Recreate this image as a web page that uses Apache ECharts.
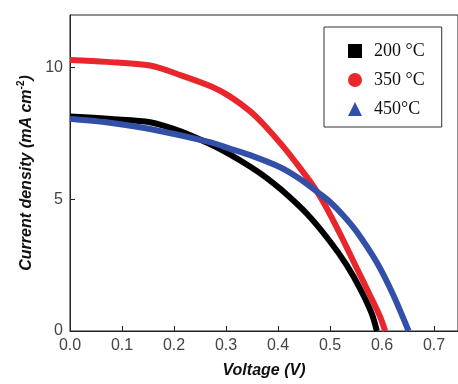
<!DOCTYPE html>
<html>
<head>
<meta charset="utf-8">
<script src="https://cdn.jsdelivr.net/npm/echarts@6/dist/echarts.min.js"></script>
<style>
  html, body { margin: 0; padding: 0; background: #fff; }
  #chart { width: 458px; height: 384px; }
</style>
</head>
<body>
<div id="chart"></div>
<script>
// J-V curves, voltage in V, current density in mA cm^-2
const v200 = [0, 0.08, 0.154, 0.21, 0.269, 0.308, 0.346, 0.372, 0.407, 0.455, 0.5, 0.532, 0.558, 0.58, 0.59];
const j200 = [8.15, 8.05, 7.93, 7.6, 7.1, 6.7, 6.25, 5.9, 5.35, 4.46, 3.4, 2.5, 1.6, 0.67, 0];

const v350 = [0, 0.07, 0.154, 0.215, 0.276, 0.308, 0.346, 0.372, 0.41, 0.436, 0.468, 0.487, 0.519, 0.551, 0.577, 0.596, 0.606];
const j350 = [10.29, 10.22, 10.08, 9.7, 9.25, 8.9, 8.35, 7.85, 7.0, 6.35, 5.5, 4.9, 3.7, 2.4, 1.35, 0.55, 0];

const v450 = [0, 0.08, 0.154, 0.269, 0.308, 0.35, 0.404, 0.44, 0.481, 0.5, 0.525, 0.551, 0.59, 0.622, 0.651];
const j450 = [8.06, 7.9, 7.67, 7.17, 6.92, 6.65, 6.22, 5.8, 5.2, 4.9, 4.4, 3.78, 2.6, 1.35, 0];

const names = ['200 °C', '350 °C', '450°C'];
const icons = ['rect', 'circle', 'triangle'];
const colors = ['#000000', '#e8262c', '#3250a8'];

const pairs = (xs, ys) => xs.map((x, i) => [x, ys[i]]);
const curves = [pairs(v200, j200), pairs(v350, j350), pairs(v450, j450)];

const chart = echarts.init(document.getElementById('chart'));

const labelFont = { fontFamily: 'Liberation Sans', fontSize: 16, color: '#444' };
const nameFont = { fontFamily: 'Liberation Sans', fontSize: 16, fontWeight: 'bold', fontStyle: 'italic', color: '#111' };

chart.setOption({
  animation: false,
  color: colors,
  grid: {
    left: 70, right: 0, top: 15, bottom: 53,
    show: true, borderColor: '#222', borderWidth: 1
  },
  legend: {
    orient: 'vertical',
    left: 324, top: 27,
    padding: [14, 17, 8, 24],
    borderColor: '#333', borderWidth: 1,
    backgroundColor: '#fff',
    itemWidth: 14, itemHeight: 14,
    itemGap: 9,
    data: names.map((n, i) => ({ name: n, icon: icons[i] })),
    textStyle: {
      fontFamily: 'Liberation Serif', fontSize: 18, color: '#111',
      lineHeight: 20, padding: [0, 0, 0, 7]
    }
  },
  xAxis: {
    type: 'value',
    min: 0, max: 0.746, interval: 0.1,
    name: 'Voltage (V)',
    nameLocation: 'middle', nameGap: 32,
    nameTextStyle: nameFont,
    axisLine: { lineStyle: { color: '#222', width: 1 } },
    axisTick: { inside: true, length: 5, lineStyle: { color: '#222' } },
    axisLabel: Object.assign({ margin: 7, showMaxLabel: false, formatter: v => v.toFixed(1) }, labelFont),
    splitLine: { show: false }
  },
  yAxis: {
    type: 'value',
    min: 0, max: 12, interval: 5,
    name: '{a|Current density (mA cm}{s|-2}{a|)}',
    nameLocation: 'middle', nameGap: 32,
    nameTextStyle: {
      rich: {
        a: Object.assign({ lineHeight: 20 }, nameFont),
        s: { fontFamily: 'Liberation Sans', fontSize: 10, fontWeight: 'bold', color: '#111', verticalAlign: 'top', lineHeight: 10 }
      }
    },
    axisLine: { show: true, lineStyle: { color: '#222', width: 1 } },
    axisTick: { show: true, inside: true, length: 5, lineStyle: { color: '#222' } },
    axisLabel: Object.assign({ margin: 7, showMaxLabel: false }, labelFont),
    splitLine: { show: false }
  },
  series: curves.map((d, i) => ({
    name: names[i],
    type: 'line',
    data: d,
    showSymbol: false,
    smooth: 0.3,
    lineStyle: { width: 6, color: colors[i] },
    itemStyle: { color: colors[i] },
    z: i === 2 ? 3 : 2
  }))
});
</script>
</body>
</html>
